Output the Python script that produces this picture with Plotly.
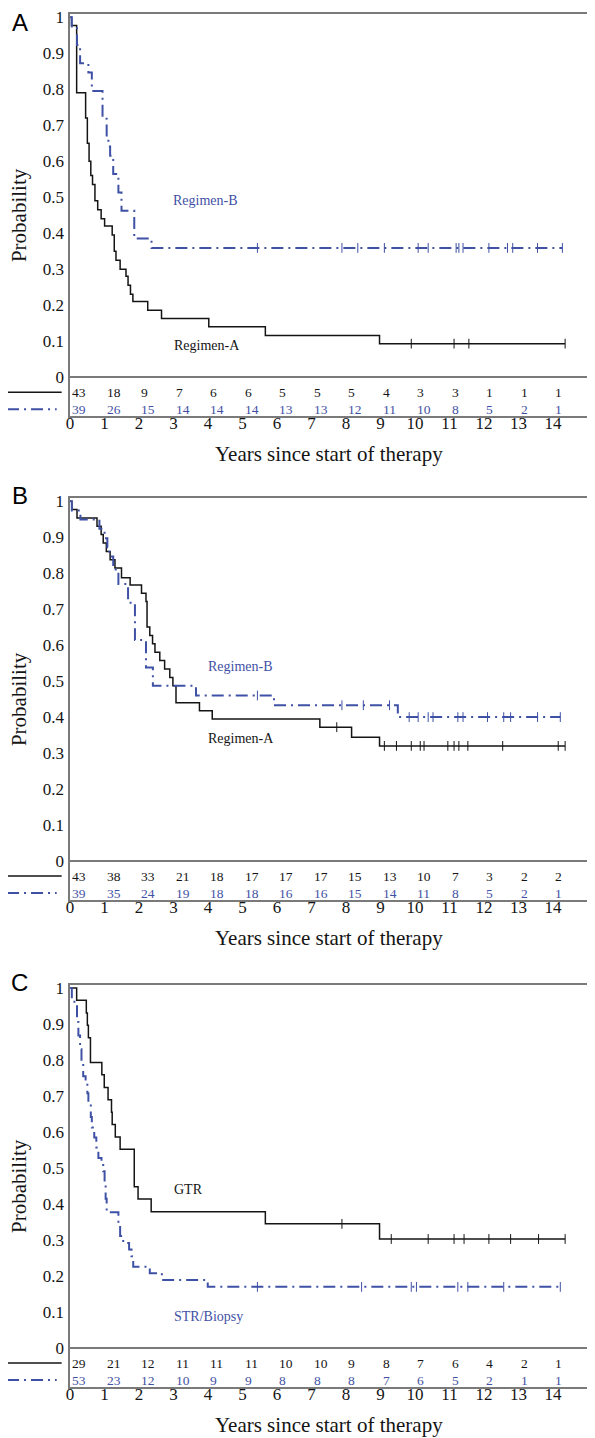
import plotly.graph_objects as go

PAGE_W, PAGE_H = 595, 1438
OFF = 8                      # body margin of the html page
W, H = PAGE_W - OFF, PAGE_H - OFF
SY, CY = 0.99587, 13.9       # measured vertical mapping of figure pixels to the photo
BLUE = "#3F51A5"
BLACK = "#141414"
GRAY = "#7a7a7a"
SERIF = "Liberation Serif, Times New Roman, serif"
SANS = "Liberation Sans, Arial, sans-serif"

years = list(range(16))
ytick_vals = [0, 0.1, 0.2, 0.3, 0.4, 0.5, 0.6, 0.7, 0.8, 0.9, 1.0]
ytick_text = ["0", "0.1", "0.2", "0.3", "0.4", "0.5", "0.6", "0.7", "0.8", "0.9", "1"]
risk_years = list(range(15))

# ---------------- Panel A ----------------
A_black_t = [0, 0.04, 0.19, 0.45, 0.50, 0.55, 0.60, 0.65, 0.72, 0.80, 0.90, 1.0, 1.22, 1.28, 1.33, 1.45, 1.62, 1.68, 1.75, 1.82, 2.25, 2.65, 4.02, 5.66, 8.97, 14.35]
A_black_s = [1.0, 0.977, 0.79, 0.72, 0.65, 0.60, 0.56, 0.535, 0.49, 0.465, 0.44, 0.42, 0.395, 0.35, 0.325, 0.30, 0.28, 0.255, 0.23, 0.21, 0.186, 0.163, 0.14, 0.116, 0.093, 0.093]
A_black_cens = [9.89, 11.13, 11.56, 14.35]
A_blue_t = [0, 0.05, 0.20, 0.29, 0.53, 0.63, 0.94, 1.06, 1.11, 1.16, 1.25, 1.40, 1.49, 1.86, 2.36, 14.27]
A_blue_s = [1.0, 0.974, 0.923, 0.872, 0.846, 0.795, 0.718, 0.667, 0.641, 0.615, 0.564, 0.513, 0.462, 0.385, 0.359, 0.359]
A_blue_cens = [5.43, 7.88, 8.34, 9.11, 10.09, 10.38, 11.19, 11.27, 11.39, 12.14, 12.68, 12.83, 13.55, 14.27]
A_risk_black = [43, 18, 9, 7, 6, 6, 5, 5, 5, 4, 3, 3, 1, 1, 1]
A_risk_blue = [39, 26, 15, 14, 14, 14, 13, 13, 12, 11, 10, 8, 5, 2, 1]
A_names = ["Regimen-A", "Regimen-B"]
A_label_pos = [(3.96, 0.089), (3.93, 0.49)]

# ---------------- Panel B ----------------
B_black_t = [0, 0.05, 0.20, 0.78, 0.90, 0.96, 1.05, 1.16, 1.30, 1.49, 1.74, 2.07, 2.20, 2.23, 2.31, 2.39, 2.46, 2.60, 2.74, 2.89, 2.98, 3.07, 3.75, 4.12, 7.24, 8.16, 8.97, 14.35]
B_black_s = [1.0, 0.977, 0.953, 0.93, 0.907, 0.884, 0.86, 0.837, 0.814, 0.787, 0.767, 0.744, 0.721, 0.65, 0.627, 0.604, 0.58, 0.557, 0.534, 0.51, 0.487, 0.44, 0.418, 0.395, 0.372, 0.344, 0.32, 0.32]
B_black_cens = [7.73, 9.11, 9.46, 9.89, 10.15, 10.26, 10.95, 11.13, 11.27, 11.53, 12.54, 14.15, 14.35]
B_blue_t = [0, 0.05, 0.30, 0.85, 1.0, 1.08, 1.14, 1.25, 1.40, 1.68, 1.88, 2.20, 2.40, 3.65, 5.91, 9.50, 14.21]
B_blue_s = [1.0, 0.974, 0.949, 0.923, 0.897, 0.872, 0.846, 0.81, 0.77, 0.718, 0.614, 0.538, 0.487, 0.46, 0.433, 0.40, 0.40]
B_blue_cens = [5.43, 7.88, 8.50, 9.26, 9.83, 10.09, 10.38, 10.52, 11.24, 11.39, 12.10, 12.57, 12.77, 13.55, 14.21]
B_risk_black = [43, 38, 33, 21, 18, 17, 17, 17, 15, 13, 10, 7, 3, 2, 2]
B_risk_blue = [39, 35, 24, 19, 18, 18, 16, 16, 15, 14, 11, 8, 5, 2, 1]
B_names = ["Regimen-A", "Regimen-B"]
B_label_pos = [(4.94, 0.34), (4.94, 0.54)]

# ---------------- Panel C ----------------
C_black_t = [0, 0.19, 0.47, 0.50, 0.53, 0.59, 0.92, 0.99, 1.10, 1.20, 1.22, 1.31, 1.45, 1.86, 1.97, 2.35, 5.66, 8.97, 14.35]
C_black_s = [1.0, 0.966, 0.931, 0.897, 0.862, 0.793, 0.759, 0.724, 0.69, 0.655, 0.621, 0.586, 0.552, 0.448, 0.414, 0.379, 0.345, 0.303, 0.303]
C_black_cens = [7.88, 9.31, 10.38, 11.13, 11.42, 12.14, 12.77, 13.58, 14.35]
C_blue_t = [0, 0.05, 0.20, 0.24, 0.29, 0.33, 0.38, 0.45, 0.50, 0.53, 0.60, 0.63, 0.70, 0.76, 0.82, 0.91, 0.96, 1.0, 1.03, 1.06, 1.40, 1.45, 1.54, 1.71, 1.78, 1.83, 2.31, 2.66, 3.99, 14.21]
C_blue_s = [1.0, 0.962, 0.906, 0.868, 0.83, 0.792, 0.755, 0.736, 0.708, 0.679, 0.642, 0.613, 0.585, 0.557, 0.528, 0.519, 0.491, 0.453, 0.415, 0.377, 0.34, 0.311, 0.292, 0.274, 0.255, 0.226, 0.208, 0.189, 0.17, 0.17]
C_blue_cens = [5.43, 8.45, 9.89, 10.04, 11.24, 11.53, 12.57, 14.21]
C_risk_black = [29, 21, 12, 11, 11, 11, 10, 10, 9, 8, 7, 6, 4, 2, 1]
C_risk_blue = [53, 23, 12, 10, 9, 9, 8, 8, 8, 7, 6, 5, 2, 1, 1]
C_names = ["GTR", "STR/Biopsy"]
C_label_pos = [(3.44, 0.44), (4.0, 0.089)]

panels = [
    ("A", 377, A_black_t, A_black_s, A_black_cens, A_blue_t, A_blue_s, A_blue_cens, A_risk_black, A_risk_blue, A_names, A_label_pos, 22),
    ("B", 861, B_black_t, B_black_s, B_black_cens, B_blue_t, B_blue_s, B_blue_cens, B_risk_black, B_risk_blue, B_names, B_label_pos, 495),
    ("C", 1348, C_black_t, C_black_s, C_black_cens, C_blue_t, C_blue_s, C_blue_cens, C_risk_black, C_risk_blue, C_names, C_label_pos, 982),
]

X0PX, X1PX = 66.5, 587.5
UNIT = 360.0
TOP_OFF, BOT_OFF = 363, 39
DASHDOT = "12px,5px,2px,5px"


def px(x):
    return (x - OFF) / W


def py(y):
    yf = y / SY - CY
    return 1 - yf / H


def step_value(ts, ss, t):
    v = ss[0]
    for ti, si in zip(ts, ss):
        if ti <= t:
            v = si
    return v


fig = go.Figure()
annotations = []
shapes = []
layout_axes = {}

for k, (letter, y0, bt, bs, bc, ut, us, uc, rb, ru, names, lpos, let_y) in enumerate(panels):
    idx = "" if k == 0 else str(k + 1)
    xa, ya = "x" + idx, "y" + idx
    fig.add_trace(go.Scatter(x=bt, y=bs, mode="lines", line=dict(color=BLACK, width=1.5, shape="hv"),
                             xaxis=xa, yaxis=ya, showlegend=False, hoverinfo="skip"))
    fig.add_trace(go.Scatter(x=ut, y=us, mode="lines", line=dict(color=BLUE, width=2, shape="hv", dash=DASHDOT),
                             xaxis=xa, yaxis=ya, showlegend=False, hoverinfo="skip"))
    fig.add_trace(go.Scatter(x=bc, y=[step_value(bt, bs, t) for t in bc], mode="markers",
                             marker=dict(symbol="line-ns-open", size=7, color=BLACK,
                                         line=dict(color=BLACK, width=1)),
                             xaxis=xa, yaxis=ya, showlegend=False, hoverinfo="skip"))
    fig.add_trace(go.Scatter(x=uc, y=[step_value(ut, us, t) for t in uc], mode="markers",
                             marker=dict(symbol="line-ns-open", size=7, color=BLUE,
                                         line=dict(color=BLUE, width=1)),
                             xaxis=xa, yaxis=ya, showlegend=False, hoverinfo="skip"))

    top, bot = y0 - TOP_OFF, y0 + BOT_OFF
    ytop, ybot = py(top), py(bot)
    y_zero, y_one = py(y0), py(y0 - UNIT)
    per = y_one - y_zero
    rng = [(ybot - y_zero) / per, (min(ytop, 1.0) - y_zero) / per]
    layout_axes["xaxis" + idx] = dict(
        domain=[px(X0PX), px(X1PX)], range=[0, 15], anchor=ya,
        tickmode="array", tickvals=years, ticktext=[str(v) for v in years],
        showgrid=False, zeroline=False, showline=True, mirror=True,
        linecolor=GRAY, linewidth=1.5, ticks="", ticklabelstandoff=-9,
        tickfont=dict(family=SERIF, size=17, color=BLACK), fixedrange=True)
    layout_axes["yaxis" + idx] = dict(
        domain=[ybot, min(ytop, 1.0)], range=rng, anchor=xa,
        tickmode="array", tickvals=ytick_vals, ticktext=ytick_text,
        showgrid=False, zeroline=True, zerolinecolor=GRAY, zerolinewidth=1.5,
        showline=True, mirror=True, linecolor=GRAY, linewidth=1.5, ticks="",
        ticklabelstandoff=1,
        tickfont=dict(family=SERIF, size=17, color=BLACK), fixedrange=True)

    r1, r2 = -15 / UNIT, -32 / UNIT
    for yr, n in zip(risk_years, rb):
        annotations.append(dict(x=yr, y=r1, xref=xa, yref=ya, text=str(n), showarrow=False,
                                xanchor="left", yanchor="middle", font=dict(family=SERIF, size=13.5, color=BLACK)))
    for yr, n in zip(risk_years, ru):
        annotations.append(dict(x=yr, y=r2, xref=xa, yref=ya, text=str(n), showarrow=False,
                                xanchor="left", yanchor="middle", font=dict(family=SERIF, size=13.5, color=BLUE)))
    shapes.append(dict(type="line", xref="paper", yref="paper", x0=px(3), x1=px(58),
                       y0=py(y0 + 15), y1=py(y0 + 15), line=dict(color=BLACK, width=1.5)))
    shapes.append(dict(type="line", xref="paper", yref="paper", x0=px(3), x1=px(53),
                       y0=py(y0 + 32), y1=py(y0 + 32), line=dict(color=BLUE, width=2, dash=DASHDOT)))
    annotations.append(dict(x=lpos[0][0], y=lpos[0][1], xref=xa, yref=ya, text=names[0], showarrow=False,
                            xanchor="center", yanchor="middle",
                            font=dict(family=SERIF, size=14, color=BLACK)))
    annotations.append(dict(x=lpos[1][0], y=lpos[1][1], xref=xa, yref=ya, text=names[1], showarrow=False,
                            xanchor="center", yanchor="middle",
                            font=dict(family=SERIF, size=14, color=BLUE)))
    annotations.append(dict(x=px(327), y=py(y0 + 77), xref="paper", yref="paper",
                            text="Years since start of therapy", showarrow=False,
                            xanchor="center", yanchor="middle",
                            font=dict(family=SERIF, size=21, color=BLACK)))
    annotations.append(dict(x=px(15), y=py((top + bot) / 2), xref="paper", yref="paper",
                            text="Probability", showarrow=False, textangle=-90,
                            xanchor="center", yanchor="middle",
                            font=dict(family=SERIF, size=21, color=BLACK)))
    annotations.append(dict(x=px(16), y=py(let_y), xref="paper", yref="paper", text=letter,
                            showarrow=False, xanchor="center", yanchor="middle",
                            font=dict(family=SANS, size=24, color="#000000")))

fig.update_layout(
    width=W, height=H, margin=dict(l=0, r=0, t=0, b=0),
    paper_bgcolor="white", plot_bgcolor="white",
    annotations=annotations, shapes=shapes, **layout_axes)

fig.write_html("out.html")
